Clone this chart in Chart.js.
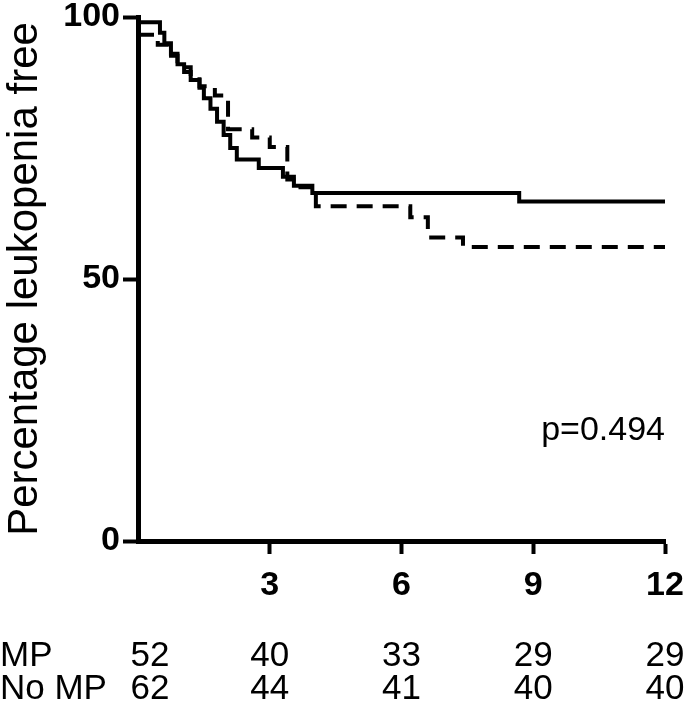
<!DOCTYPE html>
<html>
<head>
<meta charset="utf-8">
<script src="https://cdn.jsdelivr.net/npm/chart.js@4"></script>
<style>
  html, body { margin: 0; padding: 0; background: #fff; }
  #wrap { width: 685px; height: 710px; }
</style>
</head>
<body>
<div id="wrap"><canvas id="kmChart" width="685" height="710"></canvas></div>
<script>
// Kaplan-Meier data (months, % leukopenia free)
const solidTimes    = [0, 0.5, 0.6, 0.75, 0.9, 1.05, 1.2, 1.4, 1.5, 1.65, 1.8, 1.95, 2.1, 2.25, 2.75, 3.3, 3.55, 3.97, 8.68, 12];
const solidSurvival = [99, 97, 95, 93, 91, 89.5, 88, 86.5, 84.5, 82.5, 80, 77.5, 75, 72.8, 71.2, 69.5, 67.8, 66.4, 64.8, 64.8];

const dashedTimes    = [0, 0.45, 0.7, 0.9, 1.2, 1.4, 1.75, 2.05, 2.6, 3.0, 3.4, 3.7, 4.05, 6.2, 6.6, 7.4, 12];
const dashedSurvival = [96.6, 94.7, 92.6, 90.4, 88.6, 86.8, 85.0, 78.6, 77.0, 75.2, 69.0, 67.5, 63.9, 61.8, 57.9, 56.1, 56.1];

// Numbers at risk
const riskTimes   = [0, 3, 6, 9, 12];
const riskLabels  = ['MP', 'No MP'];
const mpAtRisk    = [52, 40, 33, 29, 29];
const noMpAtRisk  = [62, 44, 41, 40, 40];

const pValueText = 'p=0.494';
const yTitle = 'Percentage leukopenia free';

const FONT = "'Liberation Sans', Arial, Helvetica, sans-serif";

function toPoints(times, values) {
  return times.map((t, i) => ({ x: t, y: values[i] }));
}

// Draw the p value and the numbers-at-risk table
const extrasPlugin = {
  id: 'extras',
  afterDraw(chart) {
    const ctx = chart.ctx;
    const xs = chart.scales.x;
    const ys = chart.scales.y;
    ctx.save();
    ctx.fillStyle = '#000';
    ctx.textBaseline = 'middle';

    ctx.font = `34px ${FONT}`;
    ctx.textAlign = 'right';
    ctx.fillText(pValueText, chart.chartArea.right, ys.getPixelForValue(21));

    ctx.font = `35px ${FONT}`;
    const rows = [mpAtRisk, noMpAtRisk];
    const rowY = [656, 689];
    rows.forEach((row, r) => {
      ctx.textAlign = 'left';
      ctx.fillText(riskLabels[r], 0, rowY[r]);
      ctx.textAlign = 'center';
      row.forEach((n, i) => {
        let px = xs.getPixelForValue(riskTimes[i]);
        if (i === 0) px += 12;
        ctx.fillText(String(n), px, rowY[r]);
      });
    });
    ctx.restore();
  }
};

function createChart() {
  const ctx = document.getElementById('kmChart').getContext('2d');
  return new Chart(ctx, {
    type: 'line',
    data: {
      datasets: [
        {
          label: 'solid',
          data: toPoints(solidTimes, solidSurvival),
          stepped: 'before',
          borderColor: '#000',
          borderWidth: 4,
          pointRadius: 0,
          fill: false,
        },
        {
          label: 'dashed',
          data: toPoints(dashedTimes, dashedSurvival),
          stepped: 'before',
          borderColor: '#000',
          borderWidth: 4,
          borderDash: [16, 10],
          pointRadius: 0,
          fill: false,
        },
      ],
    },
    options: {
      responsive: false,
      animation: false,
      devicePixelRatio: 1,
      layout: { padding: { top: 17, right: 20, left: 0, bottom: 0 } },
      plugins: { legend: { display: false }, tooltip: { enabled: false } },
      scales: {
        x: {
          type: 'linear',
          min: 0,
          max: 12,
          afterFit: (scale) => {
            scale.height = 169;
            scale.paddingLeft = 0;
            scale.paddingRight = 0;
          },
          afterBuildTicks: (scale) => {
            scale.ticks = [0, 3, 6, 9, 12].map((v) => ({ value: v }));
          },
          border: { color: '#000', width: 5 },
          grid: {
            drawOnChartArea: false,
            drawTicks: true,
            tickLength: 13,
            tickWidth: 4,
            tickColor: (c) => (c.tick && c.tick.value === 0 ? 'rgba(0,0,0,0)' : '#000'),
          },
          ticks: {
            color: '#000',
            padding: 11,
            maxRotation: 0,
            font: { family: FONT, size: 34, weight: 'bold' },
            callback: (v) => (v === 0 ? '' : v),
          },
        },
        y: {
          min: 0,
          max: 100,
          afterFit: (scale) => {
            scale.width = 138;
            scale.paddingTop = 0;
            scale.paddingBottom = 0;
          },
          afterBuildTicks: (scale) => {
            scale.ticks = [0, 50, 100].map((v) => ({ value: v }));
          },
          border: { color: '#000', width: 5 },
          grid: {
            drawOnChartArea: false,
            drawTicks: true,
            tickLength: 15,
            tickWidth: 4,
            tickColor: '#000',
          },
          ticks: {
            color: '#000',
            padding: 3,
            font: { family: FONT, size: 34, weight: 'bold' },
          },
          title: {
            display: true,
            text: yTitle,
            color: '#000',
            padding: { top: 0, bottom: 0 },
            font: { family: FONT, size: 42 },
          },
        },
      },
    },
    plugins: [extrasPlugin],
  });
}

document.addEventListener('DOMContentLoaded', createChart);
</script>
</body>
</html>
